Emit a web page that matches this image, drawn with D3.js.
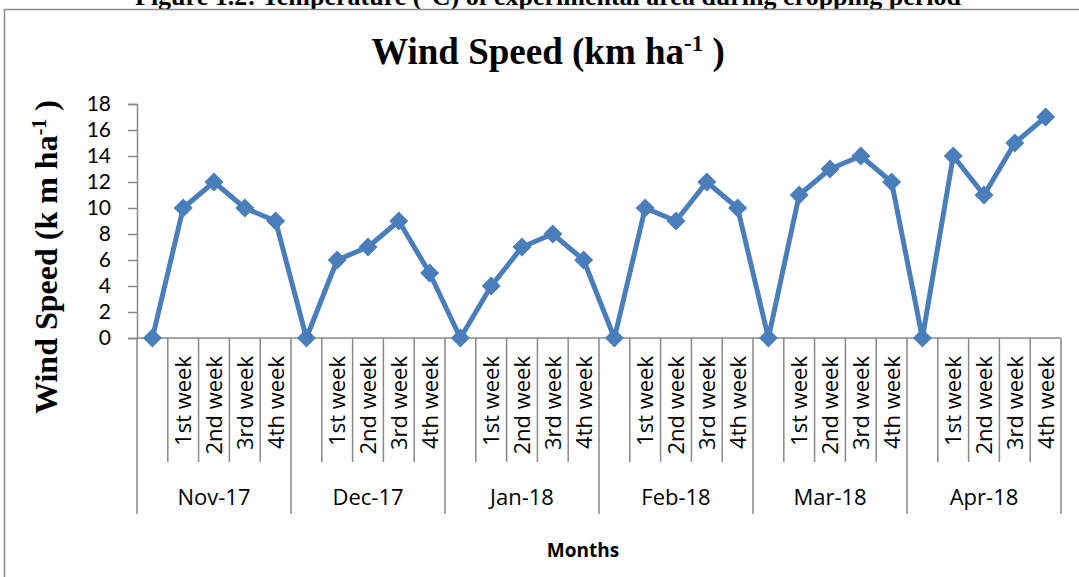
<html>
<head>
<script src="https://cdn.jsdelivr.net/npm/d3@7"></script>
<style>
  body { margin: 0; background: #fff; }
</style>
</head>
<body>
<div id="chartContainer"></div>
<script type="text/javascript">
    // months on the outer axis, weeks on the inner one
    var months = ["Nov-17", "Dec-17", "Jan-18", "Feb-18", "Mar-18", "Apr-18"];
    var weeks = ["", "1st week", "2nd week", "3rd week", "4th week"];
    var yTicks = [0, 2, 4, 6, 8, 10, 12, 14, 16, 18];

    // wind speed per month, first entry is the blank category
    var nov17 = [0, 10, 12, 10, 9];
    var dec17 = [0, 6, 7, 9, 5];
    var jan18 = [0, 4, 7, 8, 6];
    var feb18 = [0, 10, 9, 12, 10];
    var mar18 = [0, 11, 13, 14, 12];
    var apr18 = [0, 14, 11, 15, 17];
    var series = [nov17, dec17, jan18, feb18, mar18, apr18];

    var width = 1079;
    var height = 577;
    var bounds = { x: 137, y: 104, width: 924, height: 234 };
    var axisCol = "#898989";
    var lineCol = "#4a7ebb";
    var bodyFont = "'Open Sans', sans-serif";

    var data = [];
    series.forEach(function (vals, m) {
      vals.forEach(function (v, w) {
        data.push({ idx: m * weeks.length + w, month: months[m], week: weeks[w], value: v });
      });
    });

    var svg = d3.select("#chartContainer").append("svg")
        .attr("width", width)
        .attr("height", height);

    // caption of the page above (cut off by the frame, as in the scan)
    svg.append("text")
        .attr("x", 548).attr("y", 5)
        .attr("text-anchor", "middle")
        .style("font-family", "'Liberation Serif', serif")
        .style("font-weight", "bold")
        .style("font-size", "26px")
        .text("Figure 1.2: Temperature (\u00b0C) of experimental area during cropping period");

    // chart frame
    svg.append("rect")
        .attr("x", 4.5).attr("y", 9.5)
        .attr("width", 1100).attr("height", 600)
        .attr("fill", "#fff")
        .attr("stroke", "#8c8c8c")
        .attr("stroke-width", 1.5);

    var x = d3.scaleBand()
        .domain(data.map(function (d) { return d.idx; }))
        .range([bounds.x, bounds.x + bounds.width]);
    var bw = x.bandwidth();
    var y = d3.scaleLinear()
        .domain([0, 18])
        .range([bounds.y + bounds.height, bounds.y]);
    var y0 = y(0);

    // title
    var title = svg.append("text")
        .attr("x", 548).attr("y", 64)
        .attr("text-anchor", "middle")
        .style("font-family", "'Liberation Serif', serif")
        .style("font-weight", "bold")
        .style("font-size", "37px");
    title.append("tspan").text("Wind Speed (km ha");
    title.append("tspan").attr("dy", -13).style("font-size", "23px").text("-1");
    title.append("tspan").attr("dy", 13).text(" )");

    // y axis
    var yAxis = svg.append("g")
        .attr("transform", "translate(" + bounds.x + ",0)")
        .call(d3.axisLeft(y).tickValues(yTicks).tickSize(9).tickPadding(17));
    yAxis.select(".domain").attr("stroke", axisCol).attr("stroke-width", 1.5);
    yAxis.selectAll(".tick line").attr("stroke", axisCol).attr("stroke-width", 1.5);
    yAxis.selectAll(".tick text")
        .style("font-family", "Lato, sans-serif")
        .style("font-size", "21px")
        .attr("fill", "#000");

    // y axis title
    var yt = svg.append("text")
        .attr("transform", "translate(57,257) rotate(-90)")
        .attr("text-anchor", "middle")
        .style("font-family", "'Liberation Serif', serif")
        .style("font-weight", "bold")
        .style("font-size", "32px");
    yt.append("tspan").text("Wind Speed (k m ha");
    yt.append("tspan").attr("dy", -11).style("font-size", "20px").text("-1");
    yt.append("tspan").attr("dy", 11).text(" )");

    // x axis line
    svg.append("line")
        .attr("x1", bounds.x).attr("x2", bounds.x + bounds.width)
        .attr("y1", y0).attr("y2", y0)
        .attr("stroke", axisCol).attr("stroke-width", 1.5);

    // category dividers
    var weekBottom = 462, monthBottom = 514;
    svg.append("g").selectAll("line")
        .data(data.filter(function (d) { return d.week !== ""; }))
        .enter().append("line")
          .attr("x1", function (d) { return x(d.idx); })
          .attr("x2", function (d) { return x(d.idx); })
          .attr("y1", y0).attr("y2", weekBottom)
          .attr("stroke", axisCol).attr("stroke-width", 1.5);
    svg.append("g").selectAll("line")
        .data(d3.range(months.length + 1))
        .enter().append("line")
          .attr("x1", function (m) { return bounds.x + m * weeks.length * bw; })
          .attr("x2", function (m) { return bounds.x + m * weeks.length * bw; })
          .attr("y1", y0).attr("y2", monthBottom)
          .attr("stroke", axisCol).attr("stroke-width", 1.5);

    // week labels, rotated
    svg.append("g").selectAll("text")
        .data(data.filter(function (d) { return d.week !== ""; }))
        .enter().append("text")
          .attr("transform", function (d) {
            return "translate(" + (x(d.idx) + bw / 2 + 8) + ",356) rotate(-90)";
          })
          .attr("text-anchor", "end")
          .style("font-family", bodyFont)
          .style("font-size", "22px")
          .text(function (d) { return d.week; });

    // month labels
    svg.append("g").selectAll("text")
        .data(months)
        .enter().append("text")
          .attr("x", function (d, m) { return bounds.x + (m + 0.5) * weeks.length * bw; })
          .attr("y", 505)
          .attr("text-anchor", "middle")
          .style("font-family", bodyFont)
          .style("font-size", "22px")
          .text(function (d) { return d; });

    svg.append("text")
        .attr("x", 583).attr("y", 557)
        .attr("text-anchor", "middle")
        .style("font-family", bodyFont)
        .style("font-weight", "bold")
        .style("font-size", "19px")
        .text("Months");

    // the line and its diamond markers
    var line = d3.line()
        .x(function (d) { return x(d.idx) + bw / 2; })
        .y(function (d) { return y(d.value); });
    svg.append("path")
        .datum(data)
        .attr("d", line)
        .attr("fill", "none")
        .attr("stroke", lineCol)
        .attr("stroke-width", 5)
        .attr("stroke-linejoin", "round");

    svg.append("g").selectAll("path")
        .data(data)
        .enter().append("path")
          .attr("d", d3.symbol().type(d3.symbolDiamond2).size(230))
          .attr("transform", function (d) {
            return "translate(" + (x(d.idx) + bw / 2) + "," + y(d.value) + ")";
          })
          .attr("fill", lineCol);
</script>
</body>
</html>
